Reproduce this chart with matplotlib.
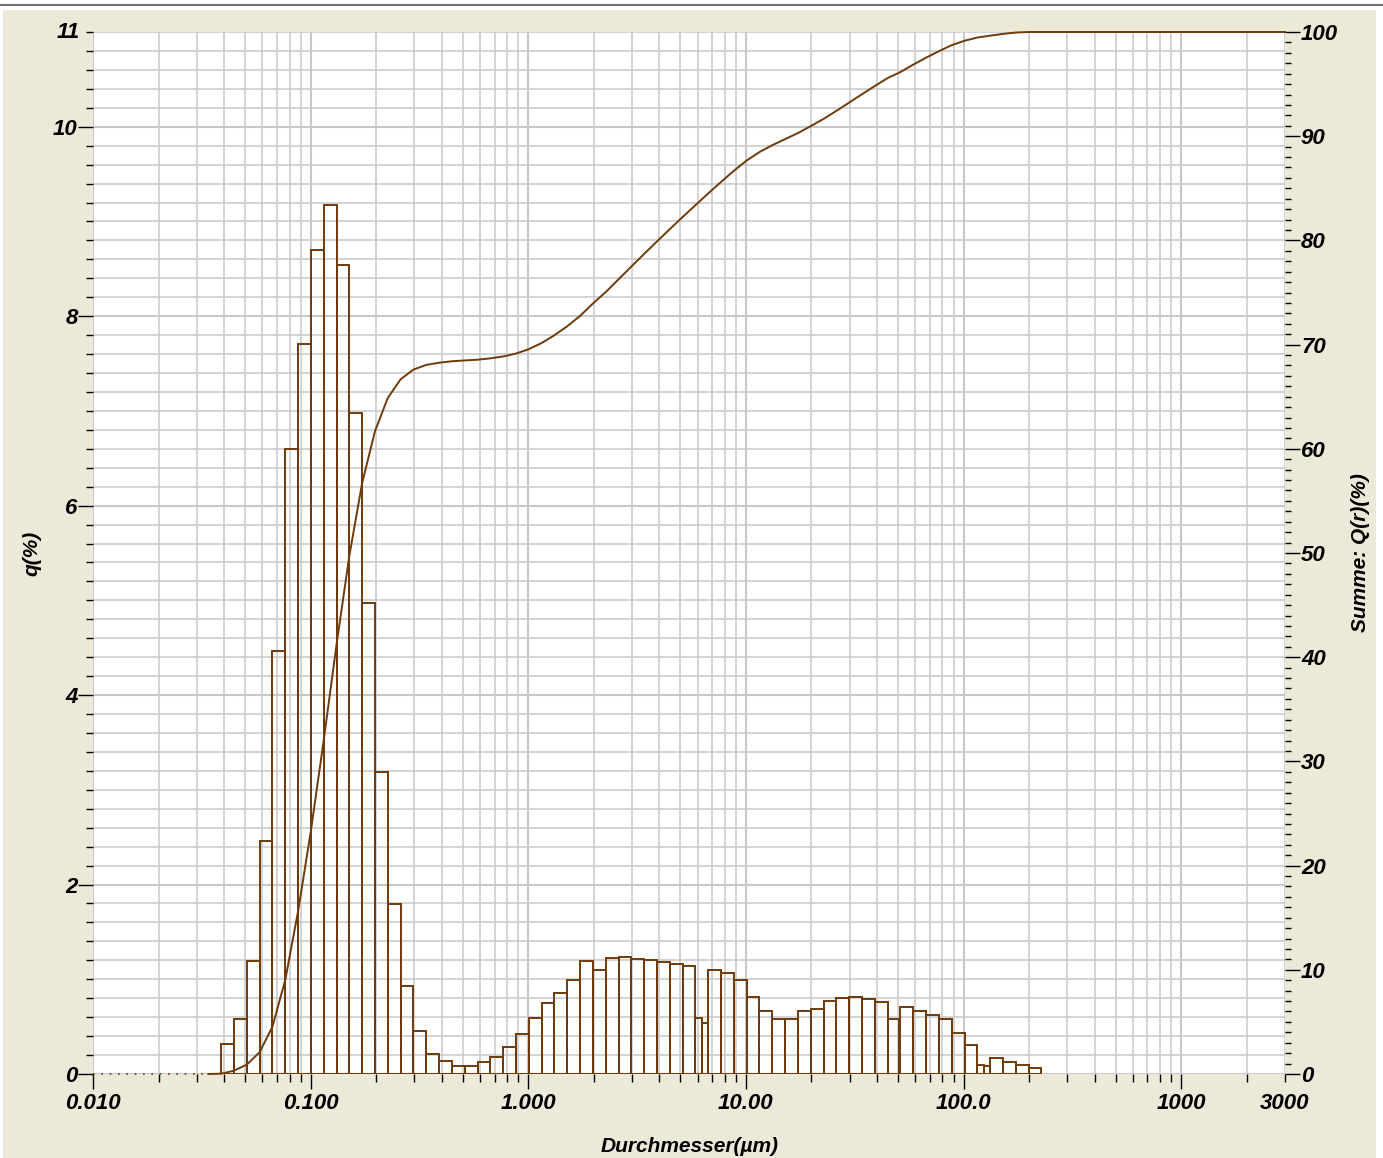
import numpy as np
import matplotlib
matplotlib.use("Agg")
import matplotlib.pyplot as plt
from matplotlib.patches import Rectangle
from matplotlib.lines import Line2D
from matplotlib.ticker import FixedLocator, FixedFormatter, MultipleLocator, NullFormatter
from matplotlib.transforms import blended_transform_factory, ScaledTranslation

# size classes (um): 93 geometric classes from 0.01 to 3000
n_classes = 93
class_edges = np.geomspace(0.01, 3000, n_classes + 1)

# q(%) per class, classes 10..73; three classes are drawn split in two
q_first_class = 10
split_classes = {47: 0.5, 62: 0.86, 69: 0.5}
q_values = [
    0.32, 0.58, 1.19, 2.46, 4.47, 6.60, 7.71, 8.70, 9.17, 8.54,   # 10-19
    6.98, 4.97, 3.19, 1.79, 0.93, 0.45, 0.21, 0.14, 0.08, 0.08,   # 20-29
    0.13, 0.18, 0.28, 0.42, 0.59, 0.75, 0.86, 0.99, 1.19, 1.10,   # 30-39
    1.22, 1.23, 1.21, 1.20, 1.18, 1.16, 1.14, 0.59, 0.54, 1.10,   # 40-48 (47 split)
    1.07, 0.99, 0.81, 0.66, 0.58, 0.58, 0.67, 0.69, 0.77, 0.80,   # 49-58
    0.81, 0.79, 0.76, 0.58, 0.17, 0.71, 0.67, 0.62, 0.58, 0.43,   # 59-67 (62 split)
    0.31, 0.10, 0.08, 0.17, 0.13, 0.10, 0.06,                     # 68-73 (69 split)
]

# cumulative Summe Q(r)(%) at class edges 9..74, then flat to 3000
cum_first_edge = 9
cum_values = [
    0.0, 0.03, 0.32, 0.90, 2.09, 4.55, 9.02, 15.62, 23.33, 32.03,
    41.20, 49.74, 56.72, 61.69, 64.88, 66.67, 67.60, 68.05, 68.26, 68.40,
    68.48, 68.55, 68.68, 68.86, 69.14, 69.56, 70.15, 70.90, 71.76, 72.75,
    73.94, 75.04, 76.26, 77.49, 78.70, 79.90, 81.08, 82.24, 83.38, 84.51,
    85.61, 86.68, 87.67, 88.48, 89.14, 89.72, 90.30, 90.97, 91.66, 92.43,
    93.23, 94.03, 94.82, 95.58, 96.16, 96.87, 97.54, 98.16, 98.74, 99.16,
    99.47, 99.65, 99.82, 99.95, 100.0, 100.0,
]

x_major = [0.01, 0.1, 1, 10, 100, 1000]
x_major_labels = ["0.010", "0.100", "1.000", "10.00", "100.0", "1000"]

BROWN = "#6E3A0A"
GRID = "#C8C8C8"
BEIGE = "#ECE9D8"
FONT = ["Liberation Sans", "DejaVu Sans"]
TICK_FS = 16
LABEL_FS = 15

plt.rcParams["font.family"] = FONT
plt.rcParams["font.weight"] = "bold"
plt.rcParams["font.style"] = "italic"

# bar geometry from the class edges
lefts, widths = [], []
for k in range(q_first_class, q_first_class + 64):
    lo, hi = class_edges[k], class_edges[k + 1]
    if k in split_classes:
        mid = lo * (hi / lo) ** split_classes[k]
        lefts += [lo, mid]
        widths += [mid - lo, hi - mid]
    else:
        lefts.append(lo)
        widths.append(hi - lo)
assert len(lefts) == len(q_values)

W, H = 1383, 1158
fig = plt.figure(figsize=(W / 100, H / 100), dpi=100, facecolor="white")
fig.patches.append(Rectangle((3 / W, 0), 1373 / W, 1 - 10 / H, transform=fig.transFigure,
                             facecolor=BEIGE, edgecolor="none", zorder=-10))
fig.lines.append(Line2D([0, 1], [1 - 5 / H] * 2, transform=fig.transFigure,
                        color="#6E6E6E", lw=1.5))

ax = fig.add_axes([93 / W, 1 - 1074 / H, 1192 / W, 1042 / H])
ax.set_facecolor("white")
ax.set_xscale("log")
ax.set_xlim(0.01, 3000)
ax.set_ylim(0, 11)
for s in ax.spines.values():
    s.set_visible(False)

# grid
ax.xaxis.set_major_locator(FixedLocator(x_major))
ax.xaxis.set_major_formatter(FixedFormatter(x_major_labels))
minor_x = [m * 10.0 ** e for e in range(-2, 3) for m in range(2, 10)] + [2000, 3000]
ax.xaxis.set_minor_locator(FixedLocator(minor_x))
ax.xaxis.set_minor_formatter(NullFormatter())
ax.yaxis.set_major_locator(FixedLocator([0, 2, 4, 6, 8, 10]))
ax.yaxis.set_minor_locator(MultipleLocator(0.2))
ax.set_axisbelow(True)
ax.grid(which="minor", color=GRID, lw=1.1)
ax.grid(which="major", color=GRID, lw=1.5)

ax.tick_params(axis="x", which="major", direction="out", length=10.5, width=1.0,
               color="black", pad=3, labelsize=TICK_FS)
ax.tick_params(axis="x", which="minor", direction="out", length=5.5, width=1.0, color="black")
ax.tick_params(axis="y", which="major", direction="out", length=10.5, width=1.0,
               color="black", pad=0.5, labelsize=TICK_FS)
ax.tick_params(axis="y", which="minor", direction="out", length=5, width=1.0, color="black")

tr_y = blended_transform_factory(ax.transAxes, ax.transData)
ax.text(-0.011, 11, "11", transform=tr_y, ha="right", va="center", fontsize=TICK_FS)
tr_x = blended_transform_factory(ax.transData, ax.transAxes) + \
    ScaledTranslation(0, -13.5 / 72, fig.dpi_scale_trans)
ax.text(3000, 0, "3000", transform=tr_x, ha="center", va="top", fontsize=TICK_FS)

# histogram
ax.bar(lefts, q_values, width=widths, align="edge", fill=False,
       edgecolor=BROWN, lw=1.4, zorder=3)
ax.plot([0.01, class_edges[cum_first_edge]], [0, 0], color=BROWN, lw=1.2,
        ls=(0, (1, 4)), zorder=3, clip_on=False)

# cumulative curve
ax2 = ax.twinx()
ax2.set_ylim(0, 100)
for s in ax2.spines.values():
    s.set_visible(False)
ax2.yaxis.set_major_locator(MultipleLocator(10))
ax2.yaxis.set_minor_locator(MultipleLocator(1))
ax2.tick_params(axis="y", which="major", direction="out", length=11, width=1.0,
                color="black", pad=0.5, labelsize=TICK_FS)
ax2.tick_params(axis="y", which="minor", direction="out", length=4.5, width=1.0, color="black")
cum_x = list(class_edges[cum_first_edge:cum_first_edge + len(cum_values)]) + [3000]
cum_y = cum_values + [100.0]
ax2.plot(cum_x, cum_y, color=BROWN, lw=1.4, clip_on=False, zorder=4)

fig.text(690 / W, 1 - 1147 / H, "Durchmesser(\u00b5m)", ha="center", va="center",
         fontsize=LABEL_FS)
fig.text(32 / W, 1 - 553 / H, "q(%)", ha="center", va="center", rotation=90,
         fontsize=LABEL_FS)
fig.text(1360 / W, 1 - 553 / H, "Summe: Q(r)(%)", ha="center", va="center",
         rotation=90, fontsize=LABEL_FS)

fig.savefig("out.png", dpi=100, facecolor=fig.get_facecolor())
